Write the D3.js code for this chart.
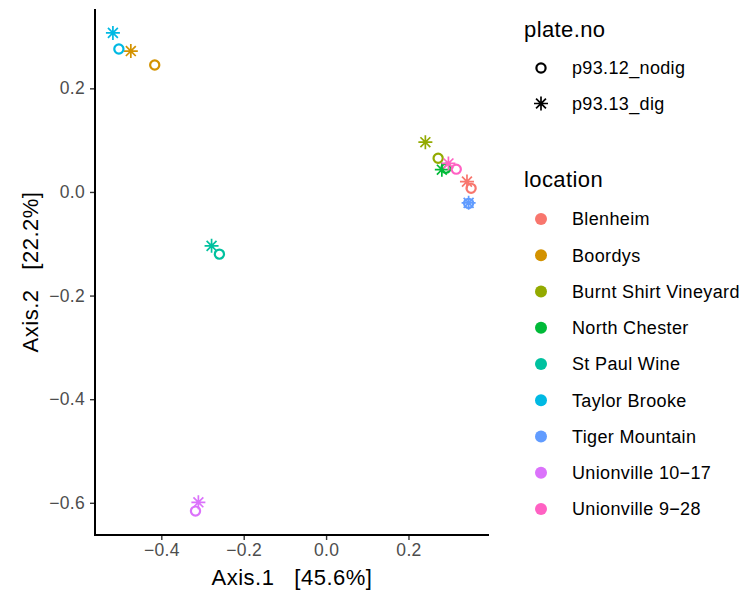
<!DOCTYPE html>
<html>
<head>
<meta charset="utf-8">
<script src="https://cdn.jsdelivr.net/npm/d3@7"></script>
<style>
  body { margin: 0; background: #fff; }
  text { font-family: "Liberation Sans", Arial, sans-serif; }
</style>
</head>
<body>
<svg id="chart"></svg>
<script>
// Data
const locations = ["Blenheim", "Boordys", "Burnt Shirt Vineyard", "North Chester", "St Paul Wine",
                   "Taylor Brooke", "Tiger Mountain", "Unionville 10\u221217", "Unionville 9\u221228"];
const colors = ["#F8766D", "#D39200", "#93AA00", "#00BA38", "#00C19F",
                "#00B9E3", "#619CFF", "#DB72FB", "#FF61C3"];
const plates = ["p93.12_nodig", "p93.13_dig"];

// axis 1 / axis 2 per location, one array per plate
const nodigX = [0.352, -0.416, 0.272, 0.291, -0.259, -0.503, 0.346, -0.317, 0.316];
const nodigY = [0.007, 0.245, 0.065, 0.046, -0.120, 0.276, -0.022, -0.616, 0.044];
const digX   = [0.342, -0.474, 0.241, 0.281, -0.278, -0.5175, 0.346, -0.310, 0.297];
const digY   = [0.020, 0.272, 0.096, 0.043, -0.104, 0.307, -0.021, -0.599, 0.055];

const xTicks = [-0.4, -0.2, 0.0, 0.2];
const yTicks = [0.2, 0.0, -0.2, -0.4, -0.6];

// build point table
const points = [];
locations.forEach((loc, i) => {
    points.push({ loc: i, plate: 0, x: nodigX[i], y: nodigY[i] });
    points.push({ loc: i, plate: 1, x: digX[i], y: digY[i] });
});

// SVG dimensions
const W = 745, H = 593;
const margin = { top: 9, right: 256, bottom: 58, left: 95 };
const width = W - margin.left - margin.right;
const height = H - margin.top - margin.bottom;

const svg = d3.select("#chart")
    .attr("width", W)
    .attr("height", H);

const g = svg.append("g")
    .attr("transform", "translate(" + margin.left + "," + margin.top + ")");

// ggplot-style 5% expansion
function expand(ext) {
    const d = (ext[1] - ext[0]) * 0.05;
    return [ext[0] - d, ext[1] + d];
}

const x = d3.scaleLinear()
    .domain(expand(d3.extent(points, d => d.x)))
    .range([0, width]);

const y = d3.scaleLinear()
    .domain(expand(d3.extent(points, d => d.y)))
    .range([height, 0]);

const fmt = v => d3.format(".1f")(v).replace("-", "\u2212");

// X axis
const xAxis = g.append("g")
    .attr("transform", "translate(0," + height + ")")
    .call(d3.axisBottom(x).tickValues(xTicks).tickFormat(fmt).tickSize(5).tickPadding(4));

// Y axis
const yAxis = g.append("g")
    .call(d3.axisLeft(y).tickValues(yTicks).tickFormat(fmt).tickSize(5).tickPadding(5));

[xAxis, yAxis].forEach(ax => {
    ax.select(".domain").remove();
    ax.selectAll(".tick line").attr("stroke", "#333").attr("stroke-width", 1.4);
    ax.selectAll(".tick text")
      .attr("fill", "#4D4D4D")
      .style("font-size", "17.5px")
      .style("letter-spacing", "0.3px")
      .style("font-family", "'Liberation Sans', Arial, sans-serif");
});

// axis lines drawn as L shape
g.append("path")
    .attr("d", "M0,0V" + height + "H" + width)
    .attr("fill", "none")
    .attr("stroke", "#000")
    .attr("stroke-width", 2);

// Star (shape 8) path
function starPath(r) {
    const a = r / Math.SQRT2;
    return "M" + (-r) + ",0H" + r + "M0," + (-r) + "V" + r +
           "M" + (-a) + "," + (-a) + "L" + a + "," + a +
           "M" + (-a) + "," + a + "L" + a + "," + (-a);
}

// Points
const pts = g.selectAll(".pt")
    .data(points)
    .enter().append("g")
    .attr("class", "pt")
    .attr("transform", d => "translate(" + x(d.x) + "," + y(d.y) + ")");

pts.each(function(d) {
    const sel = d3.select(this);
    if (d.plate === 0) {
        sel.append("circle")
            .attr("r", 4.6)
            .attr("fill", "none")
            .attr("stroke", colors[d.loc])
            .attr("stroke-width", 2.2);
    } else {
        sel.append("path")
            .attr("d", starPath(7))
            .attr("fill", "none")
            .attr("stroke", colors[d.loc])
            .attr("stroke-width", 1.7);
    }
});

// Axis titles
svg.append("text")
    .attr("x", margin.left + width / 2)
    .attr("y", 585)
    .attr("text-anchor", "middle")
    .style("font-size", "22px")
    .style("letter-spacing", "0.5px")
    .attr("fill", "#000")
    .attr("xml:space", "preserve")
    .text("Axis.1   [45.6%]");

svg.append("text")
    .attr("transform", "translate(38," + (margin.top + height / 2) + ") rotate(-90)")
    .attr("text-anchor", "middle")
    .style("font-size", "22px")
    .style("letter-spacing", "0.5px")
    .attr("fill", "#000")
    .attr("xml:space", "preserve")
    .text("Axis.2   [22.2%]");

// Legend: plate.no
const legX = 524, keyX = 541, labX = 572, step = 36.25;

svg.append("text")
    .attr("x", legX).attr("y", 37)
    .style("font-size", "22px")
    .style("letter-spacing", "0.4px")
    .text("plate.no");

plates.forEach((p, i) => {
    const cy = 68 + i * 35.5;
    if (i === 0) {
        svg.append("circle").attr("cx", keyX).attr("cy", cy).attr("r", 4.6)
            .attr("fill", "none").attr("stroke", "#000").attr("stroke-width", 2.2);
    } else {
        svg.append("path").attr("transform", "translate(" + keyX + "," + cy + ")")
            .attr("d", starPath(7)).attr("fill", "none")
            .attr("stroke", "#000").attr("stroke-width", 1.7);
    }
    svg.append("text")
        .attr("x", labX).attr("y", cy).attr("dy", "0.36em")
        .style("font-size", "18px")
        .style("letter-spacing", "0.35px")
        .text(p);
});

// Legend: location
svg.append("text")
    .attr("x", legX).attr("y", 187)
    .style("font-size", "22px")
    .style("letter-spacing", "0.4px")
    .text("location");

locations.forEach((loc, i) => {
    const cy = 219 + i * step;
    svg.append("circle").attr("cx", keyX).attr("cy", cy).attr("r", 6)
        .attr("fill", colors[i]);
    svg.append("text")
        .attr("x", labX).attr("y", cy).attr("dy", "0.36em")
        .style("font-size", "18px")
        .style("letter-spacing", "0.35px")
        .text(loc);
});
</script>
</body>
</html>
